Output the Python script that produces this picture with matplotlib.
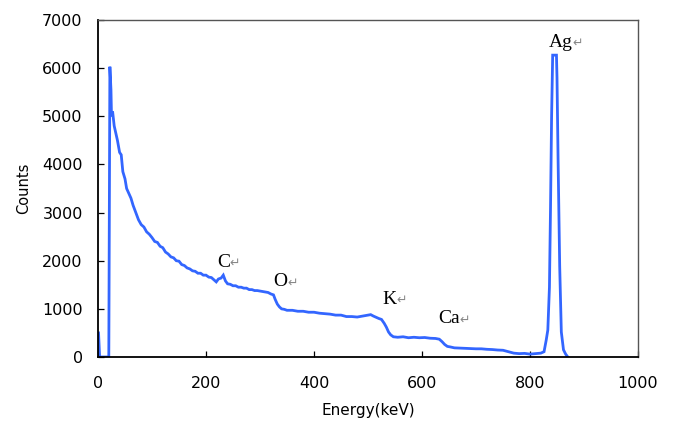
import matplotlib
matplotlib.use("Agg")
import matplotlib.pyplot as plt

# Spectrum
energy = [1, 3, 20, 21, 22, 24, 25, 27, 30, 33, 36, 40, 43, 46, 50, 53, 57, 61, 65, 70,
          75, 80, 85, 90, 95, 100, 105, 110, 115, 120, 125, 130, 135, 140, 145, 150, 155,
          160, 165, 170, 175, 180, 185, 190, 195, 200, 205, 210, 215, 219, 223, 228, 232,
          236, 240, 245, 250, 255, 260, 265, 270, 275, 280, 285, 290, 295, 300, 305, 310,
          315, 320, 325, 328, 332, 336, 340, 345, 350, 360, 370, 380, 390, 400, 410, 420,
          430, 440, 450, 460, 470, 480, 490, 500, 505, 510, 520, 525, 530, 534, 538, 542,
          547, 555, 565, 575, 585, 595, 605, 615, 625, 632, 637, 642, 647, 652, 660, 670,
          680, 690, 700, 710, 720, 730, 740, 750, 760, 770, 780, 790, 800, 810, 820, 826,
          830, 833, 836, 838, 840, 842, 847, 849, 850, 852, 855, 858, 862, 866, 870]
counts = [500, 0, 0, 3050, 6030, 5550, 5000, 5100, 4800, 4650, 4500, 4250, 4200, 3850,
          3700, 3500, 3400, 3300, 3150, 3000, 2850, 2750, 2700, 2600, 2550, 2480, 2400,
          2380, 2300, 2270, 2180, 2140, 2080, 2060, 2000, 1990, 1920, 1900, 1850, 1830,
          1790, 1780, 1740, 1740, 1700, 1700, 1660, 1650, 1600, 1560, 1620, 1640, 1700,
          1580, 1520, 1510, 1480, 1480, 1450, 1450, 1430, 1430, 1400, 1400, 1380, 1380,
          1370, 1360, 1350, 1340, 1310, 1290, 1200, 1100, 1040, 1000, 990, 970, 970, 950,
          950, 930, 930, 910, 900, 890, 870, 870, 840, 840, 830, 850, 870, 880, 850, 800,
          780, 700, 620, 520, 460, 420, 410, 420, 400, 410, 400, 405, 390, 385, 370, 320,
          260, 220, 210, 190, 185, 180, 175, 170, 170, 160, 155, 145, 140, 110, 80, 70, 75,
          60, 70, 80, 110, 350, 560, 1450, 3100, 5000, 6270, 6270, 6270, 5800, 4100, 1880,
          520, 150, 60, 0]

peak_labels = ["C", "O", "K", "Ca", "Ag"]
peak_x = [220, 325, 527, 630, 834]
peak_y = [1970, 1560, 1200, 790, 6540]

x_ticks = [0, 200, 400, 600, 800, 1000]
y_ticks = [0, 1000, 2000, 3000, 4000, 5000, 6000, 7000]

fig = plt.figure(figsize=(6.73, 4.23), dpi=100)
ax = fig.add_axes([98/673, 1-357/423, 540/673, 337/423])

ax.plot(energy, counts, color="#3366FF", lw=2.0, solid_joinstyle="miter")

ax.set_xlim(0, 1000)
ax.set_ylim(0, 7000)
ax.set_xticks(x_ticks)
ax.set_yticks(y_ticks)
ax.tick_params(axis="both", direction="in", length=4, width=0.9, labelsize=11.5)
ax.tick_params(axis="y", pad=11)
ax.tick_params(axis="x", pad=14)

for s in ["left", "bottom"]:
    ax.spines[s].set_color("black")
    ax.spines[s].set_linewidth(1.3)
for s in ["top", "right"]:
    ax.spines[s].set_color("#555555")
    ax.spines[s].set_linewidth(1.0)

ax.set_ylabel("Counts", fontsize=10.5, labelpad=8)
ax.set_xlabel("Energy(keV)", fontsize=11, labelpad=8)

for lab, x, y in zip(peak_labels, peak_x, peak_y):
    t = ax.text(x, y, lab, family="Liberation Serif", fontsize=14, color="black",
                ha="left", va="center")
    ax.annotate("\u21b5", xy=(1, 0.05), xycoords=t, va="bottom", ha="left",
                fontsize=9, color="#888888", family="DejaVu Sans")

fig.savefig("out.png", dpi=100)
